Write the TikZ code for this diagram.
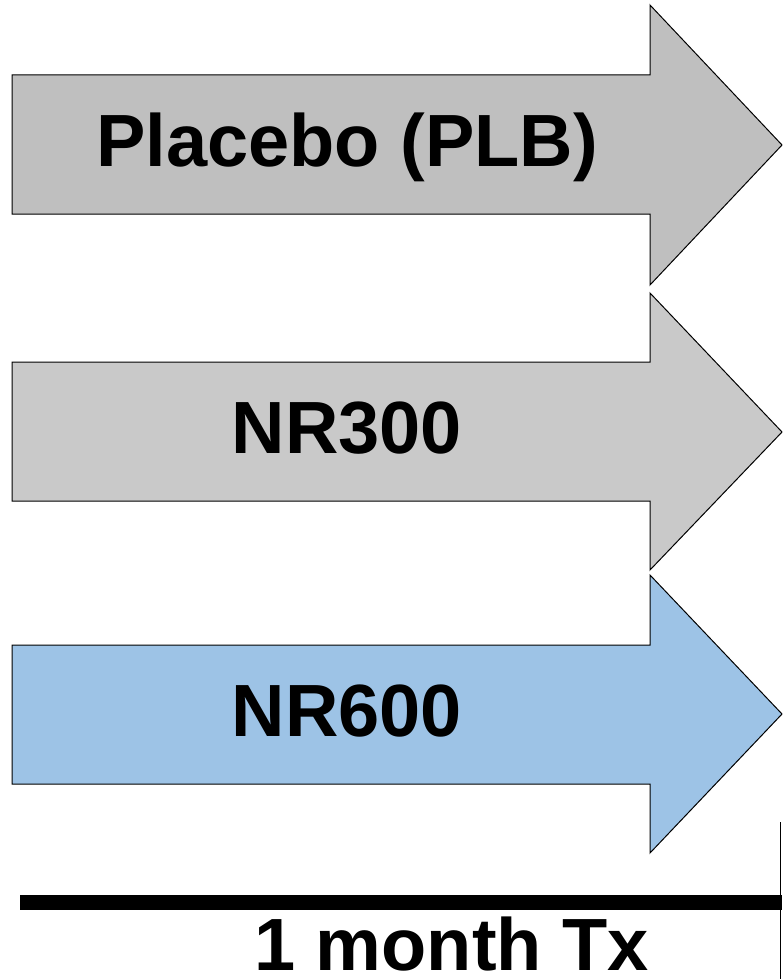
\documentclass[tikz,border=0pt]{standalone}
\usepackage{fontspec}
\setmainfont{Liberation Sans}
\definecolor{arrowgrayA}{HTML}{BFBFBF}
\definecolor{arrowgrayB}{HTML}{C9C9C9}
\definecolor{arrowblue}{HTML}{9DC3E6}
\tikzset{
  bigarrow/.style={draw=black, line width=1pt, line join=miter},
  armlabel/.style={anchor=base, inner sep=0pt, font=\fontsize{74}{80}\selectfont\bfseries}
}
\begin{document}
\begin{tikzpicture}[x=1pt,y=-1pt]
\useasboundingbox (0,0) rectangle (782,979);
\fill[white] (0,0) rectangle (782,979);
% arrows
\path[bigarrow, fill=arrowgrayA] (12,75) -- (650,75) -- (650,5) -- (782,145) -- (650,285) -- (650,214) -- (12,214) -- cycle;
\path[bigarrow, fill=arrowgrayB] (12,362) -- (650,362) -- (650,293) -- (782,432) -- (650,570) -- (650,501) -- (12,501) -- cycle;
\path[bigarrow, fill=arrowblue] (12,645) -- (650,645) -- (650,575) -- (782,714) -- (650,853) -- (650,784) -- (12,784) -- cycle;
% labels
\node[armlabel] (plb) at (347,166) {Placebo (PLB)};
\node[armlabel] (nr300) at (347,453) {NR300};
\node[armlabel] (nr600) at (347,736) {NR600};
% time axis
\coordinate (axL) at (20,902.5);
\coordinate (axR) at (782,902.5);
\draw[line width=15pt] (axL) -- (axR);
\coordinate (tickT) at (780.5,822);
\coordinate (tickB) at (780.5,979);
\draw[line width=1.5pt] (tickT) -- (tickB);
\node[armlabel] (tx) at (451.5,970) {1 month Tx};
\end{tikzpicture}
\end{document}
